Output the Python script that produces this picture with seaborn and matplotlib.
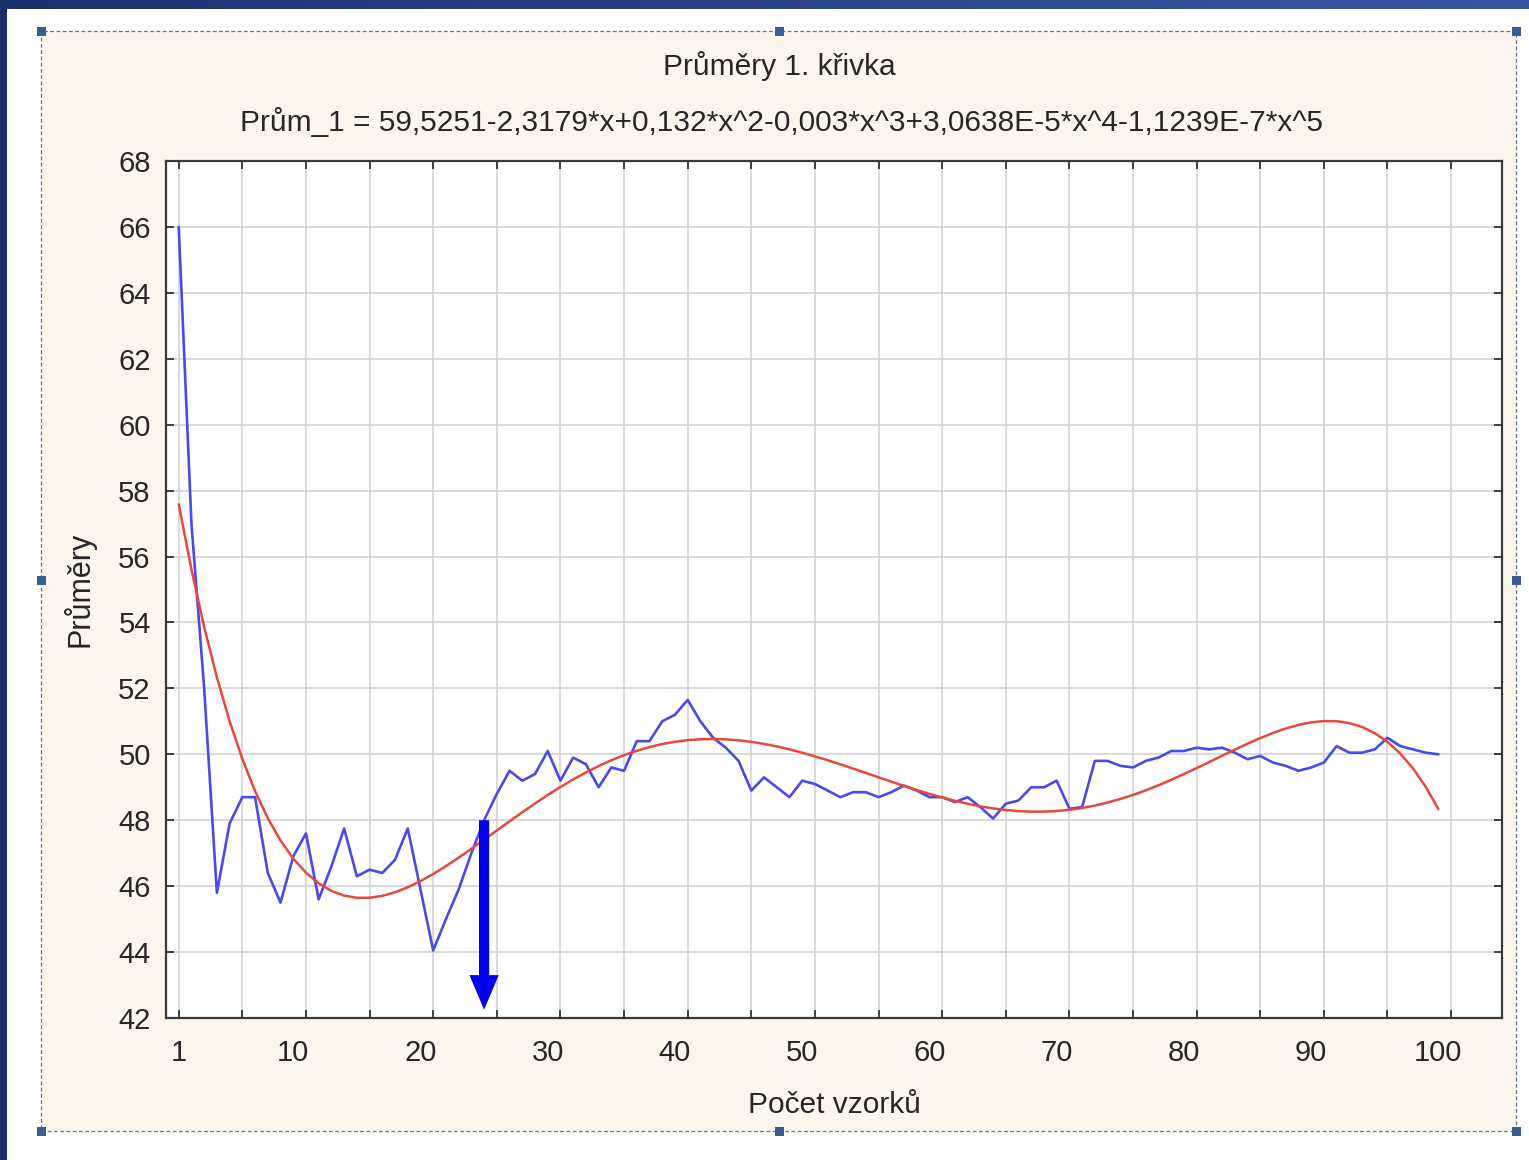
import numpy as np
import matplotlib
matplotlib.use("Agg")
import matplotlib.pyplot as plt
from matplotlib.patches import Rectangle
from matplotlib.colors import LinearSegmentedColormap
from matplotlib.ticker import FixedLocator, FixedFormatter, NullFormatter
import seaborn as sns

# Running means against the number of samples
pocet_vzorku = list(range(1, 101))
prumery = [
    66.0, 57.0, 52.0, 45.8, 47.9, 48.7, 48.7, 46.4, 45.5, 46.9,
    47.6, 45.6, 46.6, 47.75, 46.3, 46.5, 46.4, 46.8, 47.75, 45.9,
    44.05, 45.0, 45.9, 47.0, 48.0, 48.8, 49.5, 49.2, 49.4, 50.1,
    49.2, 49.9, 49.7, 49.0, 49.6, 49.5, 50.4, 50.4, 51.0, 51.2,
    51.65, 51.0, 50.5, 50.2, 49.8, 48.9, 49.3, 49.0, 48.7, 49.2,
    49.1, 48.9, 48.7, 48.85, 48.85, 48.7, 48.85, 49.05, 48.9, 48.7,
    48.7, 48.55, 48.7, 48.4, 48.05, 48.5, 48.6, 49.0, 49.0, 49.2,
    48.35, 48.4, 49.8, 49.8, 49.65, 49.6, 49.8, 49.9, 50.1, 50.1,
    50.2, 50.15, 50.2, 50.05, 49.85, 49.95, 49.75, 49.65, 49.5, 49.6,
    49.75, 50.25, 50.05, 50.05, 50.15, 50.5, 50.25, 50.15, 50.05, 50.0,
]

x_tick_labels = [1, 10, 20, 30, 40, 50, 60, 70, 80, 90, 100]
x_grid = list(range(1, 102, 5))
y_ticks = list(range(42, 69, 2))

title = "Průměry 1. křivka"
equation = "Prům_1 = 59,5251-2,3179*x+0,132*x^2-0,003*x^3+3,0638E-5*x^4-1,1239E-7*x^5"
x_label = "Počet vzorků"
y_label = "Průměry"

# vertical marker arrow
arrow_x = 25
arrow_top = 48.0
arrow_tip = 42.25

sns.set_theme(style="white")
plt.rcParams["font.family"] = ["Liberation Sans", "DejaVu Sans"]

W, H = 1529, 1160
fig = plt.figure(figsize=(W / 100, H / 100), dpi=100, facecolor="white")


def fx(px):
    return px / W


def fy(py):
    return 1 - py / H


# window frame: dark bands at top and left
band_cmap = LinearSegmentedColormap.from_list("band", ["#1d3270", "#3a58a2"])
band_ax = fig.add_axes([0, fy(9), 1, 9 / H])
band_ax.imshow(np.linspace(0, 1, 256)[None, :], aspect="auto", cmap=band_cmap)
band_ax.axis("off")
fig.add_artist(Rectangle((0, 0), 7 / W, 1, transform=fig.transFigure,
                         facecolor="#1c2e6a", edgecolor="none", zorder=-1))

# graph panel with dashed selection border
fig.add_artist(Rectangle((fx(41), fy(1131)), (1516 - 41) / W, (1131 - 31) / H,
                         transform=fig.transFigure, facecolor="#fcf5ec",
                         edgecolor="#5b6f98", linestyle=(0, (3, 2)),
                         linewidth=0.9, zorder=-2))
handle_pts = [(41, 31), (779, 31), (1516, 31), (41, 580), (1516, 580),
              (41, 1131), (779, 1131), (1516, 1131)]
hs = 9
for hx, hy in handle_pts:
    fig.add_artist(Rectangle((fx(hx - hs / 2), fy(hy + hs / 2)), hs / W, hs / H,
                             transform=fig.transFigure, facecolor="#3d5c93",
                             edgecolor="none", zorder=-1))

ax = fig.add_axes([fx(166), fy(1018), (1502 - 166) / W, (1018 - 161) / H])
ax.set_facecolor("white")

sns.lineplot(x=pocet_vzorku, y=prumery, ax=ax, color="#4a4ae8", linewidth=1.9)
sns.regplot(x=pocet_vzorku, y=prumery, order=5, scatter=False, ci=None, ax=ax,
            line_kws=dict(color="#e8483c", linewidth=1.8))

ax.arrow(arrow_x, arrow_top, 0, arrow_tip - arrow_top, width=0.8,
         head_width=2.3, head_length=1.05, length_includes_head=True,
         facecolor="#0000e6", edgecolor="none", zorder=5)

ax.set_xlim(0, 105)
ax.set_ylim(42, 68)

text_color = "#262626"
ax.xaxis.remove_overlapping_locs = False
ax.xaxis.set_major_locator(FixedLocator(x_grid))
ax.xaxis.set_major_formatter(NullFormatter())
ax.xaxis.set_minor_locator(FixedLocator(x_tick_labels))
ax.xaxis.set_minor_formatter(FixedFormatter([str(v) for v in x_tick_labels]))
ax.yaxis.set_major_locator(FixedLocator(y_ticks))

ax.tick_params(axis="both", which="major", direction="in", length=6, width=1.3,
               top=True, right=True, bottom=True, left=True, color="#333333")
ax.tick_params(axis="x", which="minor", length=0, labelsize=21, pad=15,
               labelcolor=text_color)
ax.tick_params(axis="y", which="major", labelsize=21, pad=11,
               labelcolor=text_color)

ax.grid(True, which="major", color="#cfcfcf", linewidth=1.1)
ax.set_axisbelow(True)
for s in ax.spines.values():
    s.set_color("#3a3a3a")
    s.set_linewidth(1.6)
    s.set_visible(True)

ax.set_xlabel(x_label, fontsize=21.5, color=text_color)
ax.set_ylabel(y_label, fontsize=22, color=text_color)
ax.xaxis.set_label_coords(0.5, -0.085)
ax.yaxis.set_label_coords(-0.053, 0.5)

fig.text(fx(779), fy(66), title, ha="center", va="center", fontsize=21.5,
         color=text_color)
fig.text(fx(782), fy(122), equation, ha="center", va="center", fontsize=21.5,
         color=text_color)

fig.savefig("out.png", dpi=100, facecolor="white")
